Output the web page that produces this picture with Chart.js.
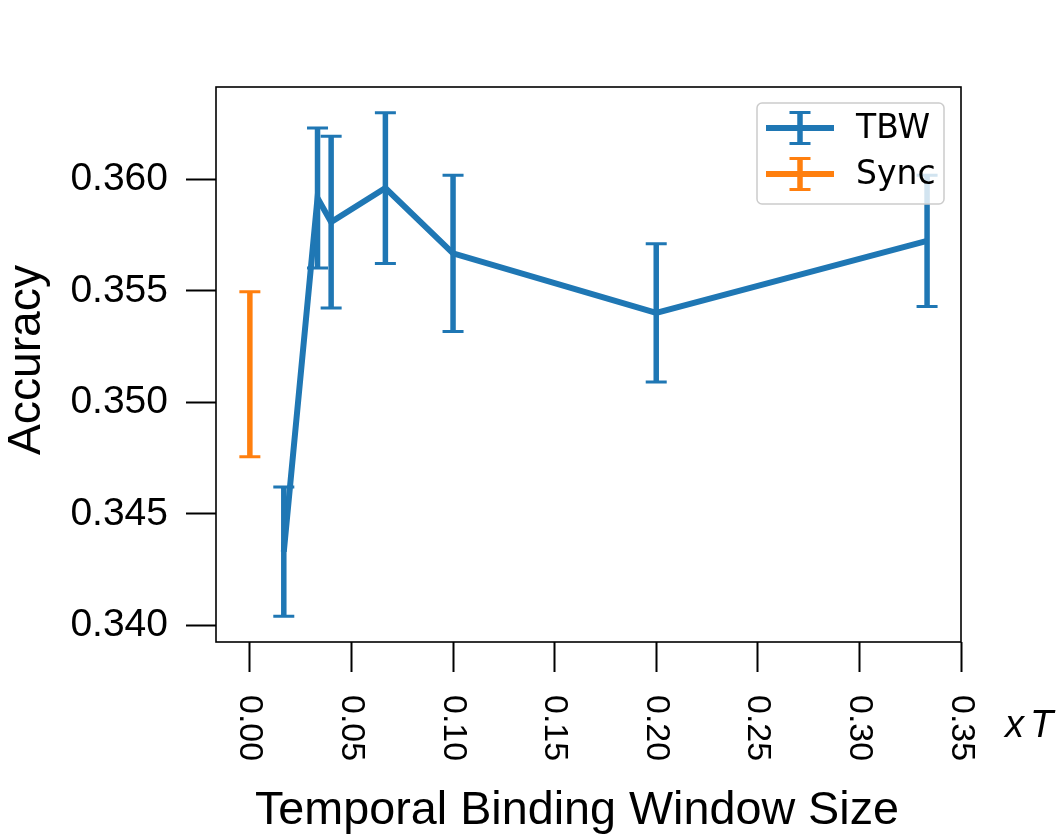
<!DOCTYPE html>
<html>
<head>
<meta charset="utf-8">
<script src="https://cdn.jsdelivr.net/npm/chart.js@4.4.1/dist/chart.umd.min.js"></script>
<style>
  html, body { margin: 0; padding: 0; background: #fff; }
  #wrap { width: 1058px; height: 839px; }
</style>
</head>
<body>
<div id="wrap"><canvas id="accChart" width="1058" height="839"></canvas></div>
<script>
// tick labels
const xTicks = [0.00, 0.05, 0.10, 0.15, 0.20, 0.25, 0.30, 0.35];
const yTicks = [0.340, 0.345, 0.350, 0.355, 0.360];

// TBW series (window size as fraction of T)
const tbwX = [0.0167, 0.0333, 0.04, 0.0667, 0.1, 0.2, 0.3333];
const tbwMean = [0.3433, 0.35916, 0.35808, 0.35961, 0.35668, 0.35401, 0.35724];
const tbwErr = [0.0029, 0.00314, 0.00385, 0.00338, 0.0035, 0.0031, 0.00294];

// Sync baseline
const syncX = [0];
const syncMean = [0.35126];
const syncErr = [0.0037];

const blue = '#1f77b4';
const orange = '#ff7f0e';

function toPoints(xs, ys) {
    return xs.map((x, i) => ({ x: x, y: ys[i] }));
}

const errorBars = [
    { xs: tbwX, mean: tbwMean, err: tbwErr, color: blue },
    { xs: syncX, mean: syncMean, err: syncErr, color: orange }
];

function drawErrorBar(ctx, x, yTop, yBot, color) {
    ctx.strokeStyle = color;
    ctx.lineWidth = 5.5;
    ctx.lineCap = 'butt';
    ctx.beginPath();
    ctx.moveTo(x, yTop);
    ctx.lineTo(x, yBot);
    ctx.stroke();
    ctx.lineWidth = 3;
    ctx.beginPath();
    ctx.moveTo(x - 10.5, yTop);
    ctx.lineTo(x + 10.5, yTop);
    ctx.moveTo(x - 10.5, yBot);
    ctx.lineTo(x + 10.5, yBot);
    ctx.stroke();
}

function fitText(ctx, text, x, y, width) {
    const w = ctx.measureText(text).width;
    ctx.save();
    ctx.translate(x, y);
    ctx.scale(width / w, 1);
    ctx.textAlign = 'center';
    ctx.fillText(text, 0, 0);
    ctx.restore();
}

const extras = {
    id: 'extras',
    afterDatasetsDraw(chart) {
        const ctx = chart.ctx;
        const xs = chart.scales.x;
        const ys = chart.scales.y;
        const area = chart.chartArea;

        ctx.save();
        // error bars
        errorBars.forEach(s => {
            s.xs.forEach((xv, i) => {
                const px = xs.getPixelForValue(xv);
                drawErrorBar(ctx, px,
                    ys.getPixelForValue(s.mean[i] + s.err[i]),
                    ys.getPixelForValue(s.mean[i] - s.err[i]), s.color);
            });
        });

        // frame
        ctx.strokeStyle = '#000';
        ctx.lineWidth = 1.6;
        ctx.strokeRect(area.left, area.top, area.right - area.left, area.bottom - area.top);

        // legend
        ctx.fillStyle = 'rgba(255,255,255,0.8)';
        ctx.strokeStyle = '#cccccc';
        ctx.lineWidth = 1.5;
        ctx.beginPath();
        ctx.roundRect(757, 103, 187, 101, 5);
        ctx.fill();
        ctx.stroke();
        [['TBW', blue, 128], ['Sync', orange, 174]].forEach(([name, color, y]) => {
            ctx.strokeStyle = color;
            ctx.lineWidth = 6;
            ctx.beginPath();
            ctx.moveTo(766, y);
            ctx.lineTo(834, y);
            ctx.stroke();
            drawErrorBar(ctx, 800, y - 15.5, y + 15.5, color);
            ctx.fillStyle = '#000';
            ctx.font = '33px "DejaVu Sans"';
            ctx.textAlign = 'left';
            ctx.textBaseline = 'middle';
            ctx.fillText(name, 856, y + 1);
        });

        // x tick labels, rotated clockwise
        ctx.fillStyle = '#000';
        ctx.font = '34px "Liberation Sans"';
        ctx.textAlign = 'left';
        ctx.textBaseline = 'middle';
        xTicks.forEach(v => {
            ctx.save();
            ctx.translate(xs.getPixelForValue(v), 695);
            ctx.rotate(Math.PI / 2);
            ctx.fillText(v.toFixed(2), 0, 0);
            ctx.restore();
        });

        // axis titles
        ctx.textBaseline = 'alphabetic';
        ctx.font = '46px "Liberation Sans"';
        fitText(ctx, 'Temporal Binding Window Size', 577, 824, 644);
        ctx.save();
        ctx.translate(40, 360);
        ctx.rotate(-Math.PI / 2);
        fitText(ctx, 'Accuracy', 0, 0, 190);
        ctx.restore();

        ctx.font = 'italic 38px "Liberation Sans"';
        ctx.textAlign = 'left';
        ctx.fillText('x', 1005, 737);
        ctx.fillText('T', 1030, 737);
        ctx.restore();
    }
};

const ctx = document.getElementById('accChart').getContext('2d');

const accChart = new Chart(ctx, {
    type: 'line',
    data: {
        datasets: [{
            label: 'TBW',
            data: toPoints(tbwX, tbwMean),
            borderColor: blue,
            borderWidth: 6,
            pointRadius: 0,
            tension: 0,
            fill: false
        }, {
            label: 'Sync',
            data: toPoints(syncX, syncMean),
            borderColor: orange,
            showLine: false,
            pointRadius: 0
        }]
    },
    options: {
        responsive: false,
        animation: false,
        devicePixelRatio: 1,
        events: [],
        layout: { padding: { left: 0, top: 87, right: 97, bottom: 0 } },
        plugins: {
            legend: { display: false },
            tooltip: { enabled: false }
        },
        scales: {
            x: {
                type: 'linear',
                min: -0.016667,
                max: 0.35,
                afterBuildTicks: s => { s.ticks = xTicks.map(v => ({ value: v })); },
                afterFit: s => { s.height = 197; },
                ticks: { display: false },
                grid: {
                    drawOnChartArea: false,
                    drawTicks: true,
                    tickLength: 30,
                    tickColor: '#000',
                    tickWidth: 2
                },
                border: { display: false }
            },
            y: {
                type: 'linear',
                min: 0.33925,
                max: 0.36414,
                afterBuildTicks: s => { s.ticks = yTicks.map(v => ({ value: v })); },
                afterFit: s => { s.width = 216; },
                ticks: {
                    padding: 18,
                    color: '#000',
                    font: { family: 'Liberation Sans', size: 39 },
                    callback: v => v.toFixed(3)
                },
                grid: {
                    drawOnChartArea: false,
                    drawTicks: true,
                    tickLength: 30,
                    tickColor: '#000',
                    tickWidth: 2
                },
                border: { display: false }
            }
        }
    },
    plugins: [extras]
});
</script>
</body>
</html>
